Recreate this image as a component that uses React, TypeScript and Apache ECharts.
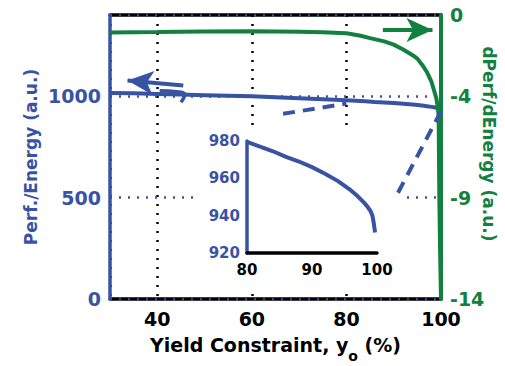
import React, { useEffect, useRef } from "react";
import * as echarts from "echarts";

// ---- data ----
const blueX = [30, 35, 40, 45, 50, 55, 60, 65, 70, 75, 80, 82, 84, 86, 88, 90, 92, 94, 96, 97, 98, 98.5, 99, 99.3, 99.5, 99.7];
const perfEnergy = [1016, 1014, 1011, 1008, 1005, 1002, 999, 995, 990, 985, 979.5, 977, 974.5, 971.5, 969, 966, 962.5, 958.5, 953.5, 950.5, 947, 945, 942.5, 940, 936, 931];

const greenX = [30, 40, 50, 60, 70, 75, 80, 83, 85, 88, 90, 92, 94, 95, 96, 97, 98, 98.5, 99, 99.3, 99.5, 99.65, 99.8, 100];
const dPerfdEnergy = [-0.86, -0.84, -0.81, -0.8, -0.82, -0.85, -0.9, -1.02, -1.14, -1.3, -1.46, -1.7, -1.98, -2.15, -2.45, -2.8, -3.3, -3.7, -4.1, -4.5, -5.0, -9.0, -11.5, -14];

const xRange = [30, 100];
const leftRange = [0, 1400];
const leftStep = 500;
const rightRange = [-14, 0];
const rightStep = 5;
const insetXRange = [80, 100];
const insetXStep = 10;
const insetYRange = [920, 980];
const insetYStep = 20;

// annotation marks (data coordinates)
const dashedA = [[66.6, 913], [80, 963]];
const dashedB = [[100, 925], [90.5, 506]];
const blueArrow = [[45.5, 1052], [33.7, 1077]];
const blueArrowHook = [[40.5, 1027], [44.1, 1022], [45.8, 1007], [45.0, 970]];
const greenArrow = [[87.7, -0.74], [98.2, -0.74]];

const FONT = "'DejaVu Sans', sans-serif";
const BLUE = "#3953a4";
const GREEN = "#12803f";

export default function App() {
  const ref = useRef<HTMLDivElement>(null);
  useEffect(() => {
    document.body.style.margin = "0";
    const chart = echarts.init(ref.current!, null, { renderer: "svg" });
    const bluePts = blueX.map((x, i) => [x, perfEnergy[i]]);
    const greenPts = greenX.map((x, i) => [x, dPerfdEnergy[i]]);
    const insetPts = bluePts.filter((p) => p[0] >= insetXRange[0]);
    const plain = (v: number) => String(v);
    const lbl = (color: string, size: number) => ({
      fontFamily: FONT,
      fontWeight: "bold" as const,
      fontSize: size,
      color,
    });
    chart.setOption({
      animation: false,
      grid: [
        { left: 110, right: 64, top: 15, bottom: 67, outerBoundsMode: "none", containLabel: false },
        { left: 247, top: 141, width: 130, height: 112, outerBoundsMode: "none", containLabel: false },
      ],
      xAxis: [
        {
          gridIndex: 0,
          type: "value",
          min: xRange[0],
          max: xRange[1],
          splitNumber: 4,
          z: 0,
          axisLine: { onZero: false, lineStyle: { color: "#000", width: 3.5 } },
          axisTick: { show: false },
          axisLabel: { ...lbl("#000", 19), showMinLabel: false, margin: 10, formatter: plain },
          splitLine: { show: true, lineStyle: { color: "#000", type: [2, 7], width: 2.5 } },
          name: "Yield Constraint, y{sub|o} (%)",
          nameLocation: "middle",
          nameGap: 28,
          nameMoveOverlap: false,
          nameTextStyle: {
            ...lbl("#000", 19),
            rich: {
              sub: { ...lbl("#000", 14), padding: [22, 0, 0, 0] },
            },
          },
        },
        {
          gridIndex: 0,
          type: "value",
          position: "top",
          min: xRange[0],
          max: xRange[1],
          z: 0,
          axisLine: { show: true, onZero: false, lineStyle: { color: "#000", width: 3.5 } },
          axisTick: { show: false },
          axisLabel: { show: false },
          splitLine: { show: false },
        },
        {
          gridIndex: 1,
          type: "value",
          min: insetXRange[0],
          max: insetXRange[1],
          interval: insetXStep,
          z: 3,
          axisLine: { onZero: false, lineStyle: { color: "#000", width: 3.5 } },
          axisTick: { show: false },
          axisLabel: { ...lbl("#000", 15), margin: 9, formatter: plain },
          splitLine: { show: false },
        },
      ],
      yAxis: [
        {
          gridIndex: 0,
          type: "value",
          position: "left",
          min: leftRange[0],
          max: leftRange[1],
          interval: leftStep,
          z: 0.5,
          axisLine: { show: true, onZero: false, lineStyle: { color: BLUE, width: 3.5 } },
          axisTick: { show: false },
          axisLabel: { ...lbl(BLUE, 19), showMaxLabel: false, margin: 9, formatter: plain },
          splitLine: { show: true, lineStyle: { color: BLUE, type: [2, 7], width: 2.5 } },
          name: "Perf./Energy (a.u.)",
          nameLocation: "middle",
          nameGap: 71,
          nameMoveOverlap: false,
          nameTextStyle: lbl(BLUE, 17),
        },
        {
          gridIndex: 0,
          type: "value",
          position: "right",
          min: rightRange[0],
          max: rightRange[1],
          interval: rightStep,
          z: 0.5,
          axisLine: { show: true, onZero: false, lineStyle: { color: GREEN, width: 4 } },
          axisTick: { show: false },
          axisLabel: { ...lbl(GREEN, 19), showMaxLabel: true, margin: 9, formatter: plain },
          splitLine: { show: false },
          name: "dPerf/dEnergy (a.u.)",
          nameLocation: "middle",
          nameRotate: -90,
          nameGap: 39,
          nameMoveOverlap: false,
          nameTextStyle: { ...lbl(GREEN, 17), padding: [0, 26, 0, 0] },
        },
        {
          gridIndex: 1,
          type: "value",
          min: insetYRange[0],
          max: insetYRange[1],
          interval: insetYStep,
          z: 3,
          axisLine: { show: true, onZero: false, lineStyle: { color: BLUE, width: 3.5 } },
          axisTick: { show: false },
          axisLabel: { ...lbl(BLUE, 15), margin: 7, formatter: plain },
          splitLine: { show: false },
        },
      ],
      graphic: [
        {
          type: "rect",
          z: 1,
          silent: true,
          shape: { x: 200, y: 126, width: 200, height: 162 },
          style: { fill: "#fff" },
        },
      ],
      series: [
        {
          type: "line",
          xAxisIndex: 0,
          yAxisIndex: 0,
          data: bluePts,
          showSymbol: false,
          z: 3,
          lineStyle: { color: BLUE, width: 4 },
          markLine: {
            silent: true,
            symbol: ["none", "arrow"],
            symbolSize: [18, 26],
            label: { show: false },
            lineStyle: { color: BLUE, width: 4, type: "solid" },
            data: [[{ coord: blueArrow[0] }, { coord: blueArrow[1] }]],
          },
        },
        {
          type: "line",
          xAxisIndex: 0,
          yAxisIndex: 0,
          data: blueArrowHook,
          showSymbol: false,
          smooth: true,
          z: 3,
          lineStyle: { color: BLUE, width: 3.5 },
        },
        {
          type: "line",
          xAxisIndex: 0,
          yAxisIndex: 1,
          data: greenPts,
          showSymbol: false,
          z: 3,
          lineStyle: { color: GREEN, width: 4 },
          markLine: {
            silent: true,
            symbol: ["none", "arrow"],
            symbolSize: [18, 26],
            label: { show: false },
            lineStyle: { color: GREEN, width: 4, type: "solid" },
            data: [[{ coord: greenArrow[0] }, { coord: greenArrow[1] }]],
          },
        },
        {
          type: "line",
          xAxisIndex: 0,
          yAxisIndex: 0,
          data: dashedA,
          showSymbol: false,
          clip: false,
          z: 3,
          lineStyle: { color: BLUE, width: 4, type: [12, 8] },
        },
        {
          type: "line",
          xAxisIndex: 0,
          yAxisIndex: 0,
          data: dashedB,
          showSymbol: false,
          clip: false,
          z: 3,
          lineStyle: { color: BLUE, width: 4, type: [12, 8] },
        },
        {
          type: "line",
          xAxisIndex: 2,
          yAxisIndex: 2,
          data: insetPts,
          showSymbol: false,
          z: 4,
          lineStyle: { color: BLUE, width: 4 },
        },
      ],
    });
    return () => chart.dispose();
  }, []);
  return <div ref={ref} style={{ width: 505, height: 366 }} />;
}
